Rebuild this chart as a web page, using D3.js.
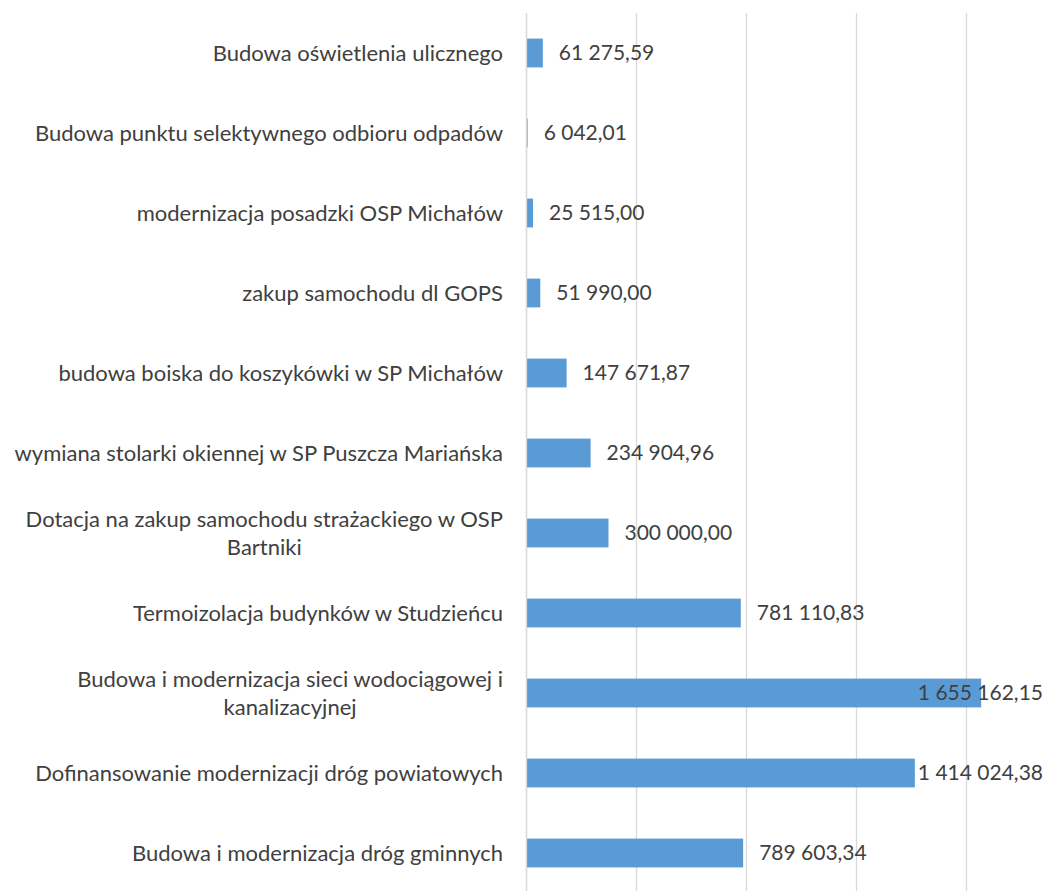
<!DOCTYPE html>
<html>
<head>
<meta charset="utf-8">
<script src="https://cdn.jsdelivr.net/npm/d3@7"></script>
<style>
  html, body { margin: 0; padding: 0; background: #fff; }
  svg { display: block; }
</style>
</head>
<body>
<div id="chart"></div>
<script>
const categories = [
	'Budowa oświetlenia ulicznego',
	'Budowa punktu selektywnego odbioru odpadów',
	'modernizacja posadzki OSP Michałów',
	'zakup samochodu dl GOPS',
	'budowa boiska do koszykówki w SP Michałów',
	'wymiana stolarki okiennej w SP Puszcza Mariańska',
	'Dotacja na zakup samochodu strażackiego w OSP Bartniki',
	'Termoizolacja budynków w Studzieńcu',
	'Budowa i modernizacja sieci wodociągowej i kanalizacyjnej',
	'Dofinansowanie modernizacji dróg powiatowych',
	'Budowa i modernizacja dróg gminnych'
];
const values = [61275.59, 6042.01, 25515.00, 51990.00, 147671.87, 234904.96, 300000.00, 781110.83, 1655162.15, 1414024.38, 789603.34];
const xTicks = [0, 400000, 800000, 1200000, 1600000, 2000000];

const W = 1047, H = 891;
const MARGIN = { TOP: 13, LEFT: 526, BOTTOM: -2, RIGHT: -29 };
const FONT = 'Lato, "Open Sans", sans-serif';
const CAT_SIZE = 22;
const VAL_SIZE = 21;
const TEXT_COLOR = '#404040';
const BAR_COLOR = '#5b9bd5';
const LABEL_MAX = 500;

const innerW = W - MARGIN.LEFT - MARGIN.RIGHT;
const innerH = H - MARGIN.TOP - MARGIN.BOTTOM;

const fmt = d3.formatLocale({ decimal: ',', thousands: '\u00a0', grouping: [3], currency: ['', ''] }).format(',.2f');

const svg = d3.select('#chart').append('svg')
	.attr('width', W)
	.attr('height', H);

const g = svg.append('g')
	.attr('transform', 'translate(' + MARGIN.LEFT + ',' + MARGIN.TOP + ')');

const x = d3.scaleLinear().domain([0, 2000000]).range([0, innerW]);
const y = d3.scaleBand().domain(categories).range([0, innerH]).paddingInner(0.64).paddingOuter(0.32);

// gridlines
g.append('g')
	.attr('class', 'grid')
	.call(d3.axisBottom(x).tickValues(xTicks).tickSize(innerH).tickFormat(''))
	.call(function (s) {
		s.select('.domain').remove();
		s.selectAll('line').attr('stroke', '#d9d9d9').attr('stroke-width', 1.3);
	});

// bars
g.selectAll('.bar').data(values).enter().append('rect')
	.attr('class', 'bar')
	.attr('x', x(0))
	.attr('y', function (d, i) { return y(categories[i]); })
	.attr('width', function (d) { return x(d) - x(0); })
	.attr('height', y.bandwidth())
	.attr('fill', BAR_COLOR);

// category axis
const yAxis = g.append('g')
	.attr('class', 'y axis')
	.call(d3.axisLeft(y).tickSize(0).tickPadding(23));
yAxis.select('.domain').attr('stroke', '#d9d9d9').attr('stroke-width', 1.3);
yAxis.selectAll('text')
	.attr('font-family', FONT)
	.attr('font-size', CAT_SIZE)
	.attr('fill', TEXT_COLOR)
	.each(function () { wrap(d3.select(this), LABEL_MAX); });

function wrap (text, maxW) {
	const words = text.text().split(/\s+/);
	const xPos = +text.attr('x');
	text.text(null);
	const lines = [];
	let line = [];
	const probe = text.append('tspan');
	words.forEach(function (w) {
		line.push(w);
		probe.text(line.join(' '));
		if (probe.node().getComputedTextLength() > maxW && line.length > 1) {
			line.pop();
			lines.push(line.join(' '));
			line = [w];
		}
	});
	lines.push(line.join(' '));
	probe.remove();
	const widths = lines.map(function (l) {
		const t = text.append('tspan').text(l);
		const wl = t.node().getComputedTextLength();
		t.remove();
		return wl;
	});
	const blockW = d3.max(widths);
	const lh = 28;
	const y0 = -(lines.length - 1) * lh / 2;
	text.attr('text-anchor', 'middle').attr('dy', null);
	lines.forEach(function (l, i) {
		text.append('tspan')
			.attr('x', xPos - blockW / 2)
			.attr('y', y0 + i * lh)
			.attr('dy', '0.35em')
			.text(l);
	});
}

// data labels
const rightEdge = W - 4 - MARGIN.LEFT;
g.selectAll('.label').data(values).enter().append('text')
	.attr('class', 'label')
	.attr('font-family', FONT)
	.attr('font-size', VAL_SIZE)
	.attr('fill', TEXT_COLOR)
	.attr('y', function (d, i) { return y(categories[i]) + y.bandwidth() / 2; })
	.attr('dy', '0.35em')
	.text(function (d) { return fmt(d); })
	.attr('x', function (d) {
		const tw = this.getComputedTextLength();
		return Math.min(x(d) + 16, rightEdge - tw);
	});
</script>
</body>
</html>
